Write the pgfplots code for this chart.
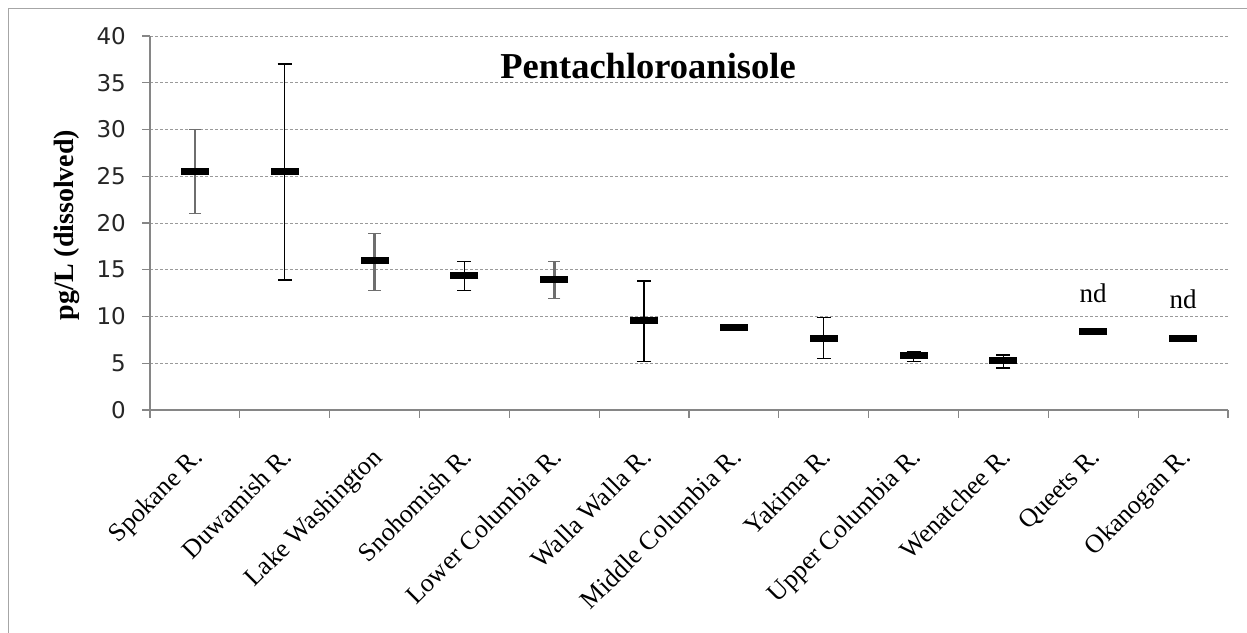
\documentclass[border=0pt]{standalone}
\usepackage{pgfplots}
\pgfplotsset{compat=1.18}
\usepackage{fontspec}
\setmainfont{Liberation Serif}
\newfontfamily\tickfont{DejaVu Sans}
\definecolor{axgray}{HTML}{868686}
\definecolor{gridgray}{HTML}{9A9A9A}
\definecolor{errgray}{HTML}{6E6E6E}
\begin{document}
\begin{tikzpicture}
\path[use as bounding box] (0,0) rectangle (1247bp,633bp);
\draw[color=gray!70, line width=1.5bp] (8.5bp,0) -- (8.5bp,624.5bp) -- (1247bp,624.5bp);
\begin{axis}[
  at={(150bp,223bp)}, anchor=south west,
  scale only axis, width=1078bp, height=374bp,
  xmin=-0.5, xmax=11.5, ymin=0, ymax=40,
  axis lines*=left,
  axis line style={color=axgray, line width=1.3bp},
  tick align=outside,
  ytick={0,5,...,40},
  major tick length=8bp,
  minor tick length=8bp,
  every tick/.style={color=axgray, line width=1.2bp},
  xtick={0,...,11},
  major x tick style={draw=none},
  minor xtick={-0.5,0.5,...,11.5},
  xticklabels={Spokane R.,Duwamish R.,Lake Washington,Snohomish R.,Lower Columbia R.,Walla Walla R.,Middle Columbia R.,Yakima R.,Upper Columbia R.,Wenatchee R.,Queets R.,Okanogan R.},
  xticklabel style={xshift=-4bp, yshift=-28bp, rotate=45, anchor=north east, inner sep=0pt, font=\fontsize{26bp}{30bp}\selectfont},
  /pgf/number format/assume math mode=true,
  yticklabel style={font=\tickfont\fontsize{23bp}{27bp}\selectfont, inner sep=0pt, xshift=-16bp, text=black!85},
  ymajorgrids,
  major grid style={color=gridgray, line width=0.9bp, dash pattern=on 3bp off 2bp},
  clip=false,
]
\addplot[only marks, mark=-, mark size=14bp, mark options={line width=7bp, black},
  error bars/.cd, y dir=both, y explicit, error mark=|,
  error mark options={mark size=6.2bp, line width=1.4bp, errgray},
  error bar style={line width=2.8bp, errgray}]
  table[x=x, y=y, y error plus=ep, y error minus=em] {
x y ep em
0 25.5 4.5 4.5
2 16.0 2.9 3.2
4 14.0 1.9 2.1
};
\addplot[only marks, mark=-, mark size=14bp, mark options={line width=7bp, black},
  error bars/.cd, y dir=both, y explicit, error mark=|,
  error mark options={mark size=7bp, line width=1.4bp, black},
  error bar style={line width=1.4bp, black}]
  table[x=x, y=y, y error plus=ep, y error minus=em] {
x y ep em
1 25.5 11.5 11.6
3 14.4 1.5 1.6
5 9.6 4.2 4.4
7 7.7 2.2 2.2
8 5.8 0.4 0.6
9 5.3 0.6 0.8
};
\addplot[only marks, mark=-, mark size=14bp, mark options={line width=7bp, black}]
  table[x=x, y=y] {
x y
6 8.8
10 8.4
11 7.7
};
\node[font=\fontsize{27bp}{30bp}\selectfont] at (axis cs:10,12.5) {nd};
\node[font=\fontsize{27bp}{30bp}\selectfont] at (axis cs:11,11.8) {nd};
\end{axis}
\node[font=\bfseries\fontsize{36.5bp}{40bp}\selectfont] at (648bp,567bp) {Pentachloroanisole};
\node[rotate=90, font=\bfseries\fontsize{28bp}{32bp}\selectfont] at (67bp,408bp) {pg/L (dissolved)};
\end{tikzpicture}
\end{document}
